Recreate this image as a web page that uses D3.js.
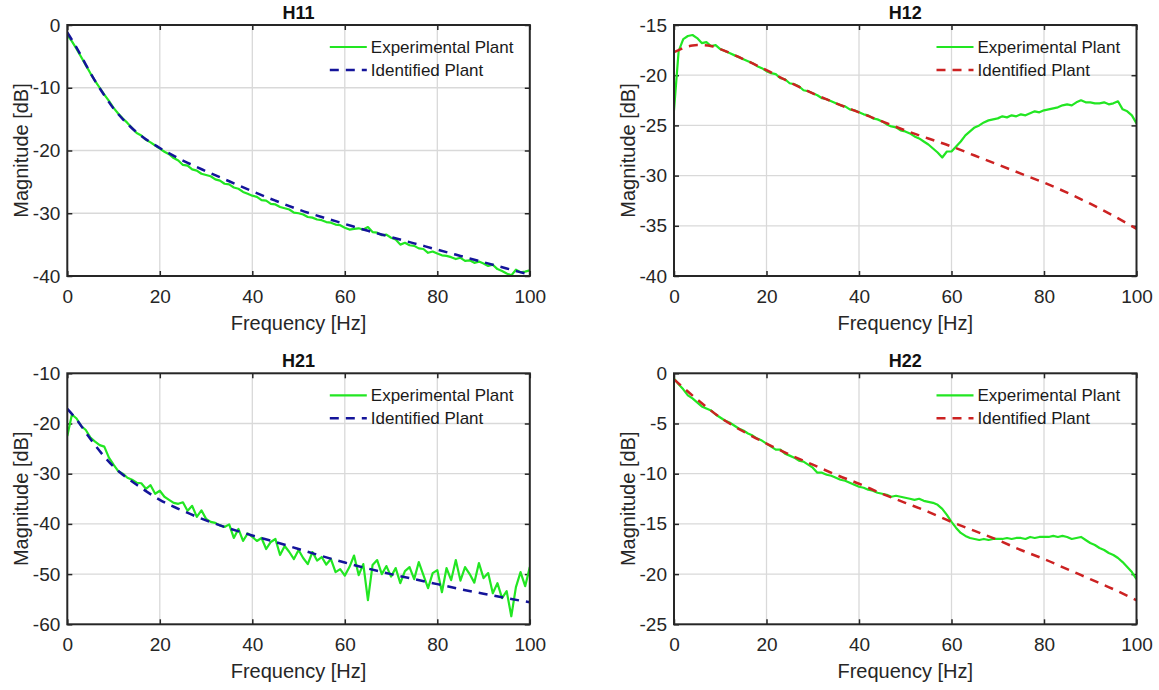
<!DOCTYPE html>
<html>
<head>
<meta charset="utf-8">
<script src="https://cdn.jsdelivr.net/npm/d3@7"></script>
<style>
  body { margin: 0; background: #fff; }
  svg { display: block; font-family: 'Liberation Sans', Arial, sans-serif; }
</style>
</head>
<body>
<div id="chart"></div>
<script>
// measured frequency grid (1 Hz steps)
const freq = [0,1,2,3,4,5,6,7,8,9,10,11,12,13,14,15,16,17,18,19,20,21,22,23,24,25,26,27,28,29,30,
  31,32,33,34,35,36,37,38,39,40,41,42,43,44,45,46,47,48,49,50,51,52,53,54,55,56,57,58,59,60,
  61,62,63,64,65,66,67,68,69,70,71,72,73,74,75,76,77,78,79,80,81,82,83,84,85,86,87,88,89,90,
  91,92,93,94,95,96,97,98,99,100];

const xTicks = [0, 20, 40, 60, 80, 100];

// H11
const h11Exp = [-1.6,-2.6,-3.8,-5.1,-6.4,-7.7,-8.9,-10.0,-11.1,-12.1,-13.2,-14.1,-14.9,-15.6,-16.4,-17.2,-17.6,-18.3,-18.7,-19.2,
  -19.7,-20.2,-20.6,-21.2,-21.6,-22.3,-22.4,-23.0,-23.2,-23.7,-23.9,-24.1,-24.6,-24.8,-25.3,-25.4,-25.9,-26.1,-26.6,-26.9,
  -27.2,-27.4,-27.9,-28.0,-28.5,-28.6,-29.0,-29.2,-29.4,-29.9,-30.0,-30.2,-30.6,-30.7,-31.0,-31.1,-31.4,-31.5,-31.8,-31.9,
  -32.3,-32.6,-32.5,-32.4,-32.6,-32.2,-33.0,-33.1,-33.5,-33.4,-33.9,-34.2,-35.0,-34.7,-35.1,-35.2,-35.6,-35.7,-36.3,-36.1,
  -36.4,-36.7,-36.8,-37.0,-37.3,-37.1,-37.6,-37.5,-37.9,-37.7,-38.0,-38.4,-38.2,-38.9,-39.2,-39.6,-39.9,-39.0,-39.4,-39.3,-39.1];
const h11FitFreq = [0,2,4,6,8,10,12,15,20,25,30,35,40,45,50,55,60,65,70,75,80,85,90,95,100];
const h11Fit = [-1.2,-3.6,-6.3,-8.9,-11.2,-13.3,-15.0,-17.1,-19.6,-21.6,-23.3,-24.9,-26.5,-28.0,-29.4,-30.6,-31.7,-32.8,-33.8,-34.8,-35.8,-36.8,-37.8,-38.8,-39.8];
const h11Ticks = [-40, -30, -20, -10, 0];

// H12
const h12Exp = [-23.5,-17.6,-16.4,-16.1,-16.0,-16.3,-16.8,-16.7,-17.1,-17.0,-17.4,-17.6,-17.8,-18.0,-18.2,-18.4,-18.6,-18.8,-19.1,-19.3,
  -19.6,-19.8,-19.9,-20.3,-20.4,-20.8,-20.9,-21.1,-21.5,-21.6,-21.8,-22.0,-22.3,-22.4,-22.6,-22.8,-23.0,-23.1,-23.4,-23.5,
  -23.7,-23.9,-24.0,-24.3,-24.4,-24.6,-24.9,-25.1,-25.2,-25.5,-25.6,-25.8,-26.1,-26.3,-26.6,-26.9,-27.3,-27.7,-28.2,-27.6,
  -27.6,-27.1,-26.6,-26.0,-25.6,-25.2,-25.0,-24.7,-24.5,-24.4,-24.3,-24.1,-24.2,-24.0,-24.1,-23.9,-24.0,-23.8,-23.6,-23.7,
  -23.5,-23.4,-23.3,-23.2,-23.0,-22.9,-23.0,-22.7,-22.5,-22.7,-22.7,-22.8,-22.8,-22.7,-22.9,-22.8,-22.6,-23.4,-23.6,-24.0,-24.8];
const h12FitFreq = [0,1,2,3,4,5,6,8,10,15,20,25,30,35,40,45,50,55,60,65,70,75,80,85,90,95,100];
const h12Fit = [-17.7,-17.5,-17.3,-17.15,-17.05,-17.0,-17.0,-17.1,-17.4,-18.4,-19.5,-20.7,-21.8,-22.8,-23.7,-24.6,-25.5,-26.3,-27.1,-28.0,-28.9,-29.8,-30.7,-31.7,-32.8,-34.0,-35.3];
const h12Ticks = [-40, -35, -30, -25, -20, -15];

// H21
const h21Exp = [-22.5,-18.2,-19.0,-20.5,-21.3,-22.8,-23.6,-24.3,-24.6,-26.8,-28.2,-29.5,-30.0,-30.8,-31.2,-31.8,-31.9,-33.0,-32.3,-34.0,
  -33.4,-34.6,-35.2,-35.8,-36.0,-35.7,-37.4,-36.4,-38.6,-37.3,-39.0,-39.6,-39.8,-40.3,-40.6,-40.1,-42.8,-41.0,-43.4,-41.9,
  -42.6,-43.4,-42.8,-45.0,-43.6,-43.0,-46.2,-44.4,-45.6,-47.0,-45.2,-46.8,-48.0,-45.6,-47.3,-46.6,-48.1,-47.0,-49.6,-49.0,
  -50.3,-48.6,-46.3,-50.2,-48.0,-55.2,-48.2,-47.2,-50.0,-48.4,-50.5,-48.8,-51.8,-49.4,-48.6,-51.0,-47.6,-50.2,-52.8,-49.8,
  -49.2,-53.6,-48.8,-51.2,-47.2,-51.3,-48.6,-50.0,-51.7,-47.8,-50.8,-49.8,-53.8,-51.8,-54.8,-53.4,-58.4,-52.6,-49.6,-52.4,-48.6];
const h21FitFreq = [0,2,4,6,8,10,12,15,20,25,30,35,40,45,50,55,60,65,70,75,80,85,90,95,100];
const h21Fit = [-17.1,-19.2,-21.8,-24.3,-26.6,-28.6,-30.2,-32.2,-35.2,-37.4,-39.3,-40.9,-42.3,-43.6,-45.0,-46.4,-47.7,-48.9,-50.0,-51.0,-52.0,-53.0,-53.9,-54.8,-55.6];
const h21Ticks = [-60, -50, -40, -30, -20, -10];

// H22
const h22Exp = [-0.5,-1.1,-1.6,-2.2,-2.5,-2.9,-3.3,-3.5,-3.7,-4.1,-4.4,-4.7,-4.9,-5.2,-5.5,-5.7,-6.0,-6.2,-6.5,-6.7,
  -7.0,-7.3,-7.6,-7.6,-8.0,-8.2,-8.4,-8.7,-8.8,-9.1,-9.4,-9.9,-9.9,-10.1,-10.2,-10.4,-10.6,-10.7,-10.9,-11.1,
  -11.3,-11.4,-11.6,-11.7,-11.9,-12.0,-12.1,-12.3,-12.2,-12.3,-12.4,-12.5,-12.6,-12.5,-12.7,-12.8,-12.9,-13.1,-13.5,-14.1,
  -14.8,-15.4,-15.9,-16.2,-16.4,-16.5,-16.6,-16.5,-16.6,-16.5,-16.5,-16.5,-16.4,-16.5,-16.4,-16.4,-16.5,-16.3,-16.4,-16.3,
  -16.3,-16.3,-16.2,-16.3,-16.2,-16.3,-16.5,-16.4,-16.3,-16.6,-16.9,-17.1,-17.4,-17.6,-17.9,-18.1,-18.4,-18.8,-19.3,-19.8,-20.5];
const h22FitFreq = [0,5,10,15,20,25,30,35,40,45,50,55,60,65,70,75,80,85,90,95,100];
const h22Fit = [-0.6,-2.6,-4.4,-5.8,-7.0,-8.1,-9.1,-10.1,-11.0,-12.0,-12.9,-13.8,-14.8,-15.7,-16.6,-17.6,-18.5,-19.5,-20.5,-21.5,-22.6];
const h22Ticks = [-25, -20, -15, -10, -5, 0];

const legendNames = ['Experimental Plant', 'Identified Plant'];

const green = '#22e622';
const navy = '#14149a';
const red = '#cc2222';

const width = 1159;
const height = 690;
const pw = 462.5;
const ph = 251;

const svg = d3.select('#chart')
  .append('svg')
  .attr('width', width)
  .attr('height', height);

const panels = [
  { id: 'p11', title: 'H11', exp: h11Exp, fitFreq: h11FitFreq, fit: h11Fit, ticks: h11Ticks, color: navy, left: 67.3, top: 25 },
  { id: 'p12', title: 'H12', exp: h12Exp, fitFreq: h12FitFreq, fit: h12Fit, ticks: h12Ticks, color: red, left: 674, top: 25 },
  { id: 'p21', title: 'H21', exp: h21Exp, fitFreq: h21FitFreq, fit: h21Fit, ticks: h21Ticks, color: navy, left: 67.3, top: 373.3 },
  { id: 'p22', title: 'H22', exp: h22Exp, fitFreq: h22FitFreq, fit: h22Fit, ticks: h22Ticks, color: red, left: 674, top: 373.3 }
];

// matlab prints a plain hyphen, not the unicode minus d3 uses
const plainFmt = d => String(d);

const drawPanel = (p) => {
  const x = d3.scaleLinear().domain([0, 100]).range([0, pw]);
  const y = d3.scaleLinear().domain(d3.extent(p.ticks)).range([ph, 0]);

  const g = svg.append('g')
    .attr('transform', `translate(${p.left}, ${p.top})`);

  g.append('clipPath').attr('id', `clip-${p.id}`)
    .append('rect').attr('width', pw).attr('height', ph);

  // grid
  g.append('g').selectAll('line')
    .data(xTicks.slice(1, -1))
    .join('line')
    .attr('x1', d => x(d)).attr('x2', d => x(d))
    .attr('y1', 0).attr('y2', ph)
    .attr('stroke', '#d9d9d9').attr('stroke-width', 1.3);

  g.append('g').selectAll('line')
    .data(p.ticks.slice(1, -1))
    .join('line')
    .attr('x1', 0).attr('x2', pw)
    .attr('y1', d => y(d)).attr('y2', d => y(d))
    .attr('stroke', '#d9d9d9').attr('stroke-width', 1.3);

  // axes, ticks pointing in like matlab
  const bottom = g.append('g')
    .attr('transform', `translate(0, ${ph})`)
    .call(d3.axisBottom(x).tickValues(xTicks).tickFormat(plainFmt).tickSize(-5).tickPadding(13.5));
  const leftAx = g.append('g')
    .call(d3.axisLeft(y).tickValues(p.ticks).tickFormat(plainFmt).tickSize(-5).tickPadding(7));
  const topAx = g.append('g')
    .call(d3.axisTop(x).tickValues(xTicks).tickSize(-5).tickFormat(''));
  const rightAx = g.append('g')
    .attr('transform', `translate(${pw}, 0)`)
    .call(d3.axisRight(y).tickValues(p.ticks).tickSize(-5).tickFormat(''));

  [bottom, leftAx, topAx, rightAx].forEach(a => {
    a.select('.domain').remove();
    a.selectAll('line').attr('stroke', '#262626').attr('stroke-width', 1.5);
    a.selectAll('text')
      .attr('fill', '#262626')
      .style('font-size', '19px')
      .style('font-family', "'Liberation Sans', Arial, sans-serif");
  });

  // curves
  const line = d3.line()
    .x(d => x(d[0]))
    .y(d => y(d[1]));

  const plot = g.append('g').attr('clip-path', `url(#clip-${p.id})`);

  plot.append('path')
    .datum(freq.map((f, i) => [f, p.exp[i]]))
    .attr('d', line)
    .attr('fill', 'none')
    .attr('stroke', green)
    .attr('stroke-width', 2.2)
    .attr('stroke-linejoin', 'round');

  plot.append('path')
    .datum(p.fitFreq.map((f, i) => [f, p.fit[i]]))
    .attr('d', line.curve(d3.curveMonotoneX))
    .attr('fill', 'none')
    .attr('stroke', p.color)
    .attr('stroke-width', 2.5)
    .attr('stroke-dasharray', '9,7');

  // box
  g.append('rect')
    .attr('width', pw).attr('height', ph)
    .attr('fill', 'none')
    .attr('stroke', '#262626')
    .attr('stroke-width', 2);

  // legend
  const lg = g.append('g')
    .attr('transform', `translate(${pw - 200}, 0)`);
  lg.append('line')
    .attr('x1', 0).attr('x2', 37).attr('y1', 22).attr('y2', 22)
    .attr('stroke', green).attr('stroke-width', 2.2);
  lg.append('line')
    .attr('x1', 0).attr('x2', 37).attr('y1', 45).attr('y2', 45)
    .attr('stroke', p.color).attr('stroke-width', 2.5)
    .attr('stroke-dasharray', '9,7');
  lg.selectAll('text')
    .data(legendNames)
    .join('text')
    .attr('x', 41)
    .attr('y', (d, i) => 22 + i * 23)
    .attr('dy', '0.36em')
    .attr('fill', '#1a1a1a')
    .style('font-size', '17px')
    .text(d => d);

  // titles and labels
  g.append('text')
    .attr('x', pw / 2).attr('y', -6)
    .attr('text-anchor', 'middle')
    .style('font-size', '18px')
    .style('font-weight', 'bold')
    .attr('fill', '#111')
    .text(p.title);

  g.append('text')
    .attr('x', pw / 2).attr('y', ph + 54)
    .attr('text-anchor', 'middle')
    .style('font-size', '20px')
    .attr('fill', '#262626')
    .text('Frequency [Hz]');

  g.append('text')
    .attr('transform', `translate(-39, ${ph / 2}) rotate(-90)`)
    .attr('text-anchor', 'middle')
    .style('font-size', '20px')
    .attr('fill', '#262626')
    .text('Magnitude [dB]');
};

panels.forEach(drawPanel);
</script>
</body>
</html>
